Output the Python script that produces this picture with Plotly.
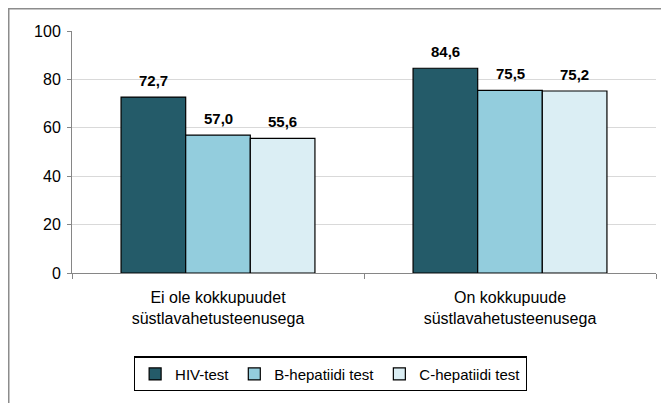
import plotly.graph_objects as go

categories = ["Ei ole kokkupuudet<br>süstlavahetusteenusega",
              "On kokkupuude<br>süstlavahetusteenusega"]
series_names = ["HIV-test", "B-hepatiidi test", "C-hepatiidi test"]
hiv_values = [72.7, 84.6]
hepb_values = [57.0, 75.5]
hepc_values = [55.6, 75.2]
y_ticks = [0, 20, 40, 60, 80, 100]

colors = ["#245b69", "#93cddd", "#dbeef4"]
bargap = 0.336
FONT = "Liberation Sans"

fig = go.Figure()
all_values = [hiv_values, hepb_values, hepc_values]
for name, vals, col in zip(series_names, all_values, colors):
    fig.add_trace(go.Bar(
        x=categories, y=vals, name=name,
        marker=dict(color=col, line=dict(color="#000000", width=1.2)),
    ))

# value labels above bars (a bit higher than plotly's default outside text)
bar_w = (1 - bargap) / len(series_names)
for k, vals in enumerate(all_values):
    for i, v in enumerate(vals):
        fig.add_annotation(
            x=i + (k - 1) * bar_w, y=v, xref="x", yref="y",
            text=f"{v:.1f}".replace(".", ","), showarrow=False,
            yanchor="bottom", yshift=6,
            font=dict(family=FONT, size=15, color="#000000", weight="bold"),
        )

fig.update_layout(
    width=661, height=395,
    margin=dict(l=64, r=13, t=23, b=126),
    barmode="group", bargap=bargap, bargroupgap=0,
    plot_bgcolor="white", paper_bgcolor="white",
    font=dict(family=FONT, size=15, color="#000000"),
    showlegend=True,
    legend=dict(orientation="h", x=0.4425, xanchor="center", y=-0.345, yanchor="top",
                bordercolor="#000000", borderwidth=1.2,
                font=dict(family=FONT, size=15), itemwidth=30),
)
fig.update_yaxes(range=[0, 100], tickvals=y_ticks, showgrid=True, gridcolor="#d9d9d9",
                 showline=True, linecolor="#868686", ticks="outside", ticklen=4,
                 tickcolor="#868686", zeroline=False, tickfont=dict(size=16),
                 ticklabelstandoff=3)
fig.update_xaxes(type="category", showline=True, linecolor="#868686", ticks="outside", ticklen=5,
                 tickcolor="#868686", tickson="boundaries", tickfont=dict(size=16),
                 ticklabelstandoff=10)

# outer chart frame
fig.add_shape(type="rect", xref="paper", yref="paper",
              x0=-0.1083, x1=1.2, y0=-0.8, y1=1.092,
              line=dict(color="#8c8c8c", width=1.5), fillcolor="rgba(0,0,0,0)", layer="below")

fig.write_html("out.html")
